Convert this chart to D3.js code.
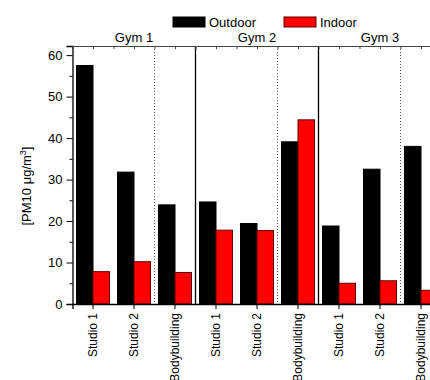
<!DOCTYPE html>
<html>
<head>
<meta charset="utf-8">
<script src="https://cdn.jsdelivr.net/npm/d3@7"></script>
<style>
  body { margin: 0; background: #fff; }
  text { font-family: Arial, "Liberation Sans", sans-serif; }
</style>
</head>
<body>
<svg id="drawing_region"></svg>
<script>
// data
const gyms = ["Gym 1", "Gym 2", "Gym 3"];
const rooms = ["Studio 1", "Studio 2", "Bodybuilding"];
const series = ["Outdoor", "Indoor"];
const outdoor = [57.5, 31.8, 23.9, 24.6, 19.4, 39.1, 18.8, 32.5, 38.0];
const indoor = [7.8, 10.2, 7.6, 17.8, 17.7, 44.4, 5.0, 5.6, 3.3];
const yTicks = [0, 10, 20, 30, 40, 50, 60];

const colors = { Outdoor: "#000000", Indoor: "#ff0000" };
const strokes = { Outdoor: "#000000", Indoor: "#600000" };

let cats = [];
gyms.forEach((g, gi) => rooms.forEach((r, ri) => {
    cats.push({ id: g + "|" + r, gym: g, room: r, gi: gi, ri: ri,
        Outdoor: outdoor[gi * 3 + ri], Indoor: indoor[gi * 3 + ri] });
}));

const config = {
    width: 430,
    height: 380,
    left: 72.5,
    right: 441.5,
    top: 46,
    bottom: 304
};

const svg = d3.select('#drawing_region')
    .attr('width', config.width)
    .attr('height', config.height);

const xscale = d3.scaleBand()
    .domain(cats.map(d => d.id))
    .range([config.left, config.right])
    .padding(0);

const inner = d3.scaleBand()
    .domain(series)
    .range([4, 37]);

const yscale = d3.scaleLinear()
    .domain([0, 62.2])
    .range([config.bottom, config.top]);

// bars
const groups = svg.append('g').selectAll('g')
    .data(cats)
    .enter()
    .append('g')
    .attr('transform', d => `translate(${xscale(d.id)},0)`);

groups.selectAll('rect')
    .data(d => series.map(s => ({ key: s, value: d[s] })))
    .enter()
    .append('rect')
    .attr('x', d => inner(d.key))
    .attr('width', inner.bandwidth())
    .attr('y', d => yscale(d.value))
    .attr('height', d => yscale(0) - yscale(d.value))
    .attr('fill', d => colors[d.key])
    .attr('stroke', d => strokes[d.key])
    .attr('stroke-width', 1);

// separators: solid between gyms, dotted before bodybuilding
const sep = svg.append('g');
cats.filter(d => d.ri === 2).forEach(d => {
    const xs = xscale(d.id);
    sep.append('line')
        .attr('x1', xs).attr('x2', xs)
        .attr('y1', config.top).attr('y2', config.bottom)
        .attr('stroke', '#555')
        .attr('stroke-dasharray', '1,2');
    const xe = xs + xscale.step();
    sep.append('line')
        .attr('x1', xe).attr('x2', xe)
        .attr('y1', config.top).attr('y2', config.bottom)
        .attr('stroke', '#000')
        .attr('stroke-width', 1.3);
});

// left axis
const yaxis = d3.axisLeft(yscale)
    .tickValues(yTicks)
    .tickSize(6)
    .tickPadding(4);
const yg = svg.append('g')
    .attr('transform', `translate(${config.left},0)`)
    .call(yaxis);
yg.select('.domain').attr('stroke-width', 1.3);
yg.selectAll('text').style('font-size', '13px').attr('fill', '#000');

const yminor = d3.axisLeft(yscale)
    .tickValues([5, 15, 25, 35, 45, 55])
    .tickSize(3)
    .tickFormat('');
svg.append('g')
    .attr('transform', `translate(${config.left},0)`)
    .call(yminor)
    .select('.domain').remove();

// bottom axis
const xaxis = d3.axisBottom(xscale)
    .tickSize(5)
    .tickPadding(3)
    .tickFormat(id => id.split('|')[1]);
const xg = svg.append('g')
    .attr('transform', `translate(${xscale.step() / 2 - xscale.bandwidth() / 2},${config.bottom})`)
    .call(xaxis);
xg.select('.domain').attr('stroke-width', 1.3);
xg.selectAll('.tick line').attr('transform', `translate(${inner.range()[0] + inner.bandwidth() - xscale.bandwidth() / 2},0)`);
xg.selectAll('.tick text')
    .style('font-size', '12px')
    .attr('fill', '#000')
    .attr('text-anchor', 'end')
    .attr('transform', `translate(${inner.range()[0] + inner.bandwidth() - xscale.bandwidth() / 2},0) rotate(-90)`)
    .attr('x', -9)
    .attr('y', 0)
    .attr('dy', '0.35em');

// top axis with half-step ticks
const halfTicks = d3.range(0, cats.length * 2 + 1).map(i => config.left + i * xscale.step() / 2);
const topScale = d3.scaleLinear().domain([config.left, config.right]).range([config.left, config.right]);
const topAxis = d3.axisTop(topScale)
    .tickValues(halfTicks)
    .tickSize(-3)
    .tickFormat('');
const tg = svg.append('g')
    .attr('transform', `translate(0,${config.top})`)
    .call(topAxis);
tg.select('.domain').attr('stroke', '#444');
tg.selectAll('.tick line').attr('stroke', '#444');

// gym labels above
svg.append('g').selectAll('text')
    .data(cats.filter(d => d.ri === 1))
    .enter()
    .append('text')
    .attr('x', d => xscale(d.id) + xscale.bandwidth() / 2)
    .attr('y', 42)
    .attr('text-anchor', 'middle')
    .style('font-size', '13px')
    .text(d => d.gym);

// y label
svg.append('text')
    .attr('transform', 'translate(31,186) rotate(-90)')
    .attr('text-anchor', 'middle')
    .style('font-size', '13px')
    .html('[PM10 μg/m<tspan dy="-5" style="font-size:9px">3</tspan><tspan dy="5">]</tspan>');

// legend
const legend = svg.append('g');
const legendX = [173, 284];
series.forEach((s, i) => {
    legend.append('rect')
        .attr('x', legendX[i]).attr('y', 17)
        .attr('width', 32).attr('height', 10)
        .attr('fill', colors[s])
        .attr('stroke', strokes[s]);
    legend.append('text')
        .attr('x', legendX[i] + 36).attr('y', 27)
        .style('font-size', '13px')
        .text(s);
});
</script>
</body>
</html>
